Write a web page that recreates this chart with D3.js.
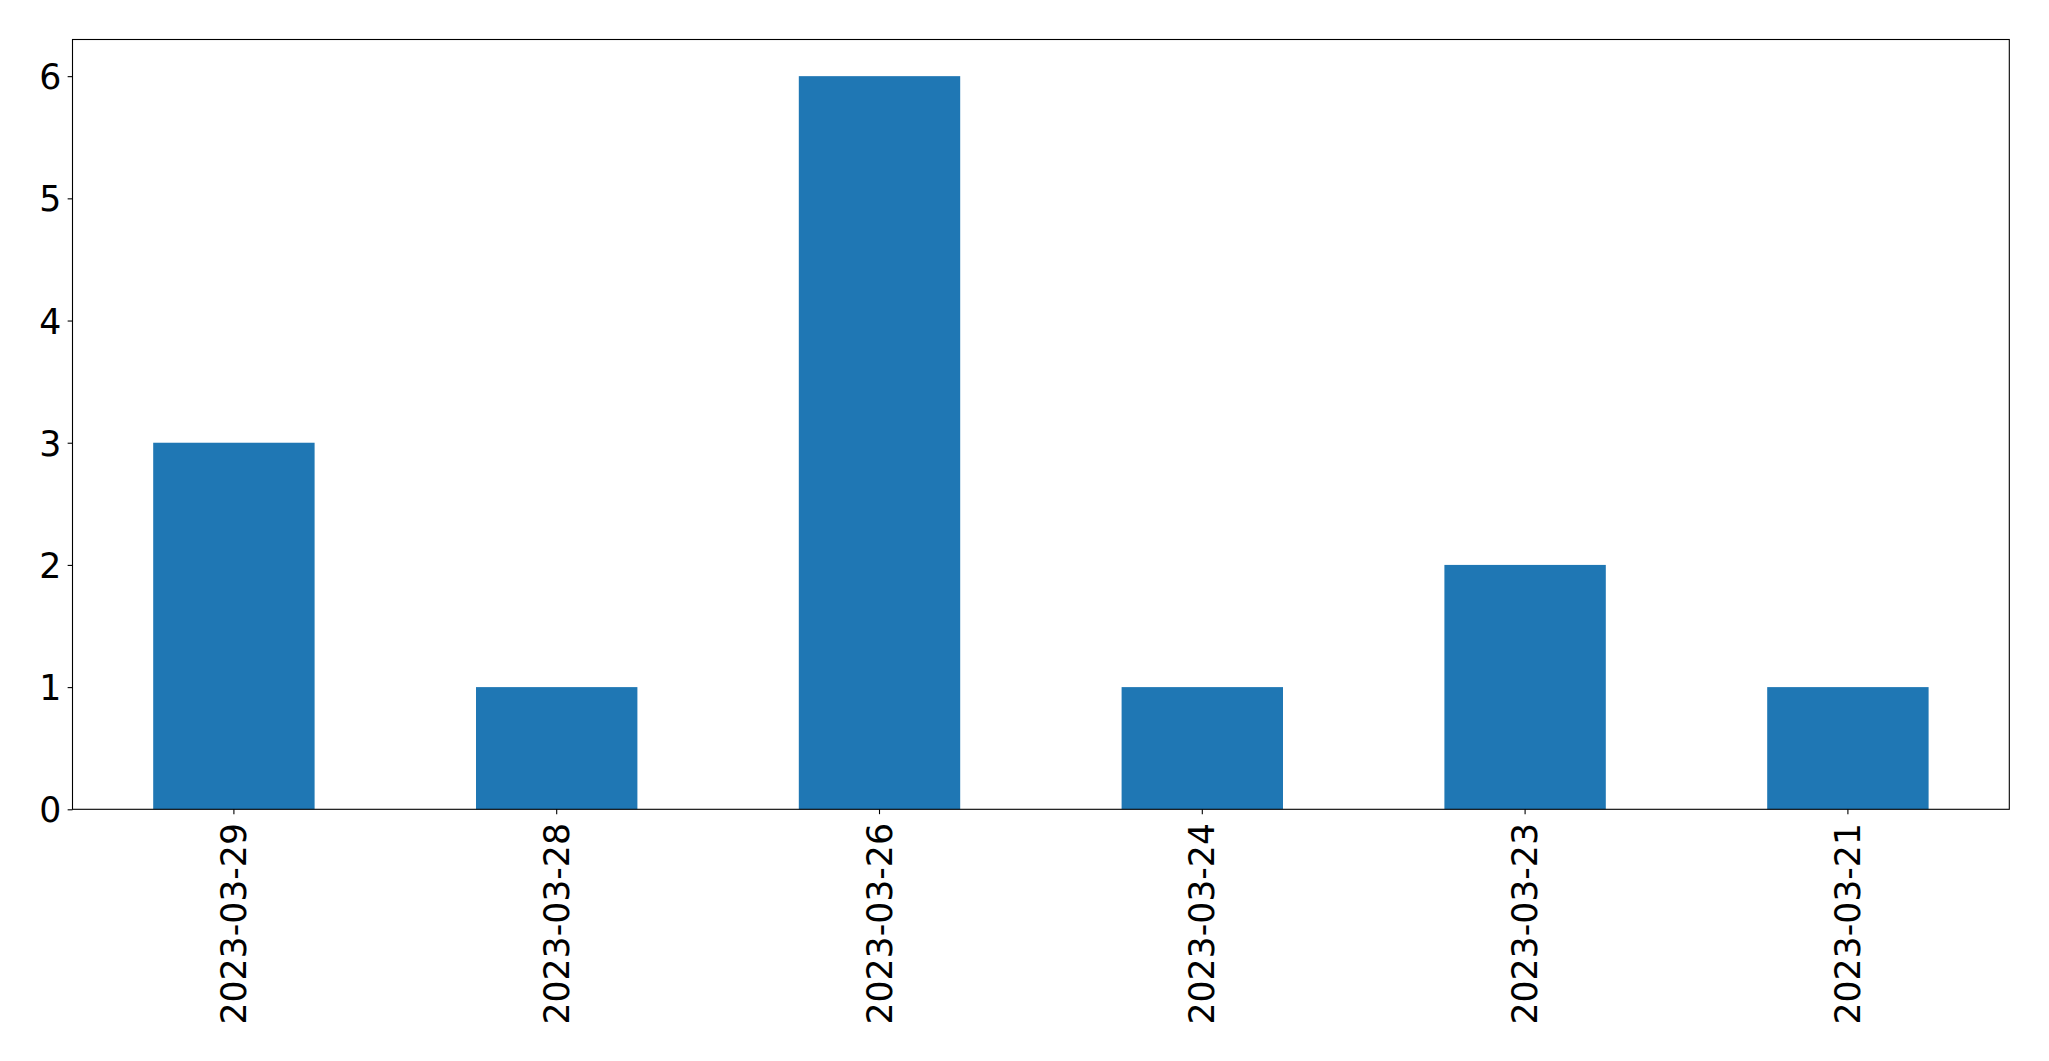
<!DOCTYPE html>
<html>
<head>
<meta charset="utf-8">
<script src="https://cdn.jsdelivr.net/npm/d3@7"></script>
<style>
  html, body { margin: 0; padding: 0; background: #fff; }
  svg { display: block; }
</style>
</head>
<body>
<script>
const categories = ["2023-03-29", "2023-03-28", "2023-03-26", "2023-03-24", "2023-03-23", "2023-03-21"];
const values = [3, 1, 6, 1, 2, 1];
const yTicks = [0, 1, 2, 3, 4, 5, 6];

(function () {
const W = 2049, H = 1061;
const mLeft = 72.5, mRight = 2009.3, mTop = 39.5, mBottom = 809.3;
const fontSize = 34.7;
const tickLen = 4.86, tickPad = 4.86;

const svg = d3.select("body").append("svg").attr("width", W).attr("height", H);

const x = d3.scaleBand().domain(categories).range([mLeft, mRight]).paddingInner(0.5).paddingOuter(0.25);
const y = d3.scaleLinear().domain([0, 6.3]).range([mBottom, mTop]);

svg.append("g").selectAll("rect").data(categories).join("rect")
  .attr("x", d => x(d))
  .attr("width", x.bandwidth())
  .attr("y", (d, i) => y(values[i]))
  .attr("height", (d, i) => y(0) - y(values[i]))
  .attr("fill", "#1f77b4");

// frame
svg.append("rect").attr("x", mLeft).attr("y", mTop).attr("width", mRight - mLeft).attr("height", mBottom - mTop)
  .attr("fill", "none").attr("stroke", "#000").attr("stroke-width", 1.1);

// y axis
const yAxis = d3.axisLeft(y).tickValues(yTicks).tickFormat(d3.format("d")).tickSize(tickLen).tickPadding(tickPad + 1.5);
const gy = svg.append("g").attr("transform", `translate(${mLeft},0)`).call(yAxis);
gy.select(".domain").remove();
gy.selectAll(".tick line").attr("stroke", "#000").attr("stroke-width", 1.1);
gy.selectAll(".tick text").attr("font-family", "DejaVu Sans").attr("font-size", fontSize).attr("fill", "#000")
  .attr("dy", "0.36em");

// x axis
const xAxis = d3.axisBottom(x).tickSize(tickLen).tickPadding(0);
const gx = svg.append("g").attr("transform", `translate(0,${mBottom})`).call(xAxis);
gx.select(".domain").remove();
gx.selectAll(".tick line").attr("stroke", "#000").attr("stroke-width", 1.1);
gx.selectAll(".tick text")
  .attr("font-family", "DejaVu Sans").attr("font-size", fontSize).attr("fill", "#000")
  .attr("y", 0).attr("dy", null)
  .attr("text-anchor", "end")
  .attr("dominant-baseline", "central")
  .attr("transform", `translate(0,${tickLen + tickPad + 4}) rotate(-90)`);
})();
</script>
</body>
</html>
